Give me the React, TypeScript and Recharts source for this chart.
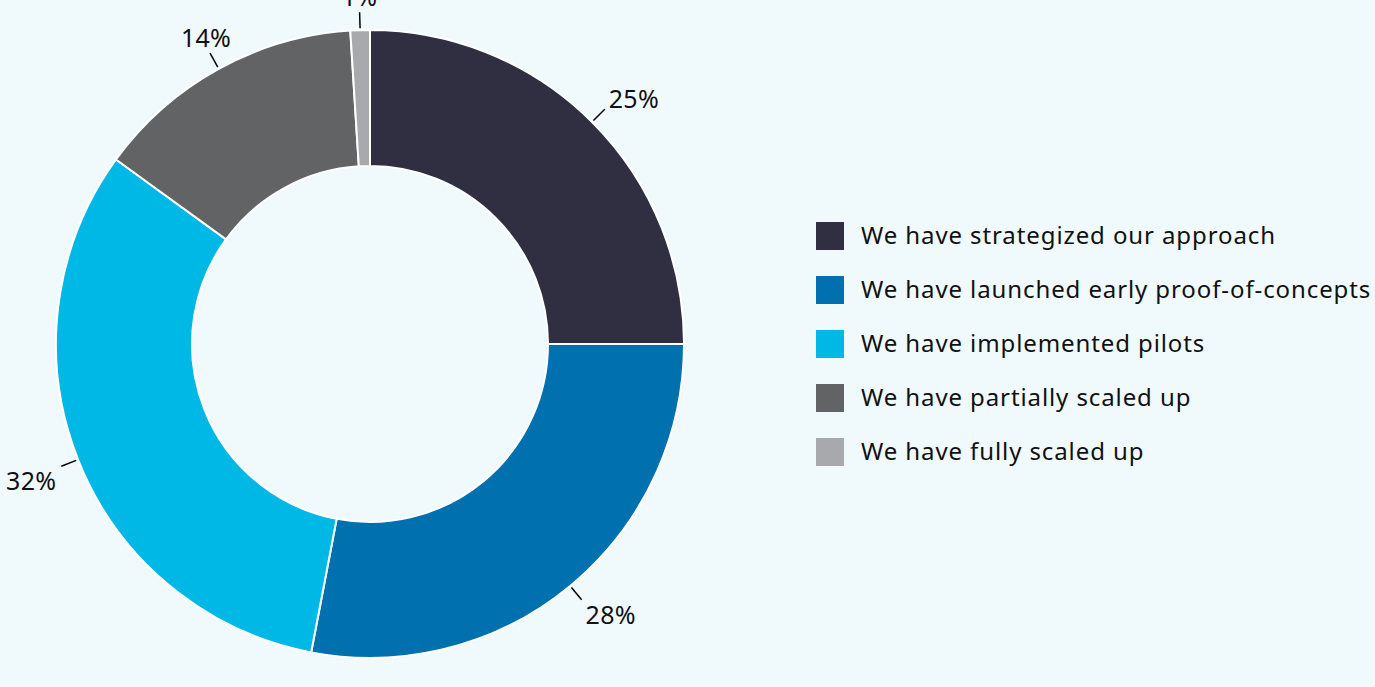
import React from 'react';
import { PieChart, Pie, Cell, Legend } from 'recharts';

if (typeof document !== 'undefined') {
  document.body.style.margin = '0';
}

const categories = [
  'We have strategized our approach',
  'We have launched early proof-of-concepts',
  'We have implemented pilots',
  'We have partially scaled up',
  'We have fully scaled up',
];
const values = [25, 28, 32, 14, 1];
const colors = ['#2f2f41', '#0071ae', '#00b8e6', '#626365', '#a8a9ad'];

const data = categories.map((name, i) => ({ name, value: values[i] }));

const FONT = '"Noto Sans", "Open Sans", sans-serif';
const RAD = Math.PI / 180;

const renderLabel = (props: any) => {
  const { cx, cy, midAngle, outerRadius, value } = props;
  const c = Math.cos(-midAngle * RAD);
  const s = Math.sin(-midAngle * RAD);
  const r1 = outerRadius + 2;
  const r2 = outerRadius + 18;
  const sx = cx + r1 * c;
  const sy = cy + r1 * s;
  const ex = cx + r2 * c;
  const ey = cy + r2 * s;
  let tx: number, ty: number, anchor: 'start' | 'end' | 'middle', baseline: any;
  if (Math.abs(s) > 0.8) {
    anchor = 'middle';
    tx = ex - 4 * Math.sign(-c) * (Math.abs(c) > 0.2 ? 1 : 0);
    if (s < 0) {
      ty = ey - 6;
      baseline = 'auto';
    } else {
      ty = ey + 8;
      baseline = 'hanging';
    }
  } else {
    anchor = c >= 0 ? 'start' : 'end';
    tx = ex + (c >= 0 ? 4 : -5);
    ty = ey + (s < 0 ? -11 : 14);
    baseline = 'central';
  }
  return (
    <g>
      <line x1={sx} y1={sy} x2={ex} y2={ey} stroke="#000" strokeWidth={1.5} />
      <text
        x={tx}
        y={ty}
        textAnchor={anchor}
        dominantBaseline={baseline}
        fill="#111"
        fontSize={25}
        letterSpacing={0.3}
        fontFamily={FONT}
      >
        {`${value}%`}
      </text>
    </g>
  );
};

const renderLegend = () => (
  <div style={{ fontFamily: FONT }}>
    {categories.map((name, i) => (
      <div
        key={name}
        style={{ display: 'flex', alignItems: 'center', height: 54 }}
      >
        <div style={{ width: 28, height: 28, background: colors[i], marginRight: 17, flex: 'none' }} />
        <span style={{ fontSize: 24, letterSpacing: 0.9, color: '#111', whiteSpace: 'nowrap', position: 'relative', top: -2 }}>{name}</span>
      </div>
    ))}
  </div>
);

export default function App() {
  return (
    <div style={{ width: 1375, height: 687, background: '#f0f9fc', overflow: 'hidden', position: 'relative' }}>
      <PieChart
        width={1375}
        height={687}
        margin={{ top: 0, right: 0, bottom: 0, left: 0 }}
        style={{ overflow: 'visible' }}
      >
        <Pie
          data={data}
          dataKey="value"
          nameKey="name"
          cx={370}
          cy={344}
          innerRadius={178}
          outerRadius={314}
          startAngle={90}
          endAngle={-270}
          stroke="#ffffff"
          strokeWidth={2}
          label={renderLabel}
          labelLine={false}
          isAnimationActive={false}
        >
          {data.map((d, i) => (
            <Cell key={d.name} fill={colors[i]} />
          ))}
        </Pie>
        <Legend
          content={renderLegend}
          layout="vertical"
          wrapperStyle={{ position: 'absolute', left: 816, top: 209, width: 600 }}
        />
      </PieChart>
    </div>
  );
}
